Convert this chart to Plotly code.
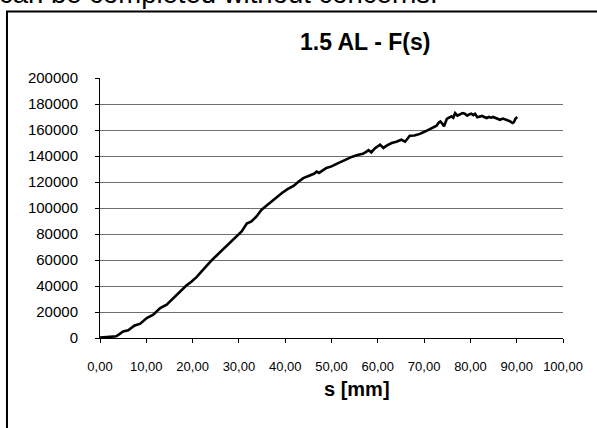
import plotly.graph_objects as go

# Displacement s [mm]
s_mm = [0, 1, 2, 3, 3.5, 4.2, 5.0, 6.1, 6.6, 7.4, 8.7, 9.3, 10.1, 11.5, 12.3, 13.0, 14.4, 15.5,
        16.6, 17.6, 18.7, 19.8, 20.9, 21.9, 23.0, 24.1, 25.2, 26.3, 27.4, 28.4, 29.5, 30.6,
        31.7, 32.7, 33.8, 34.9, 36.0, 37.0, 38.1, 39.3, 40.5, 41.8, 42.8, 43.9, 45.3, 46.3,
        46.8, 47.3, 48.9, 50.0, 51.1, 52.1, 53.2, 54.5, 55.8, 56.8, 57.4, 58.0, 58.6, 59.4,
        60.5, 61.2, 61.9, 63.0, 64.0, 65.1, 65.9, 66.4, 66.9, 67.9, 69.1, 70.3, 71.3, 72.0,
        72.7, 73.1, 73.5, 73.9, 74.3, 74.9, 75.5, 75.9, 76.3, 76.7, 77.2, 77.8, 78.3, 78.8,
        79.3, 79.7, 80.2, 80.6, 81.0, 81.5, 82.0, 82.5, 83.0, 83.5, 84.0, 84.5, 84.9, 85.5,
        85.9, 86.4, 87.0, 87.5, 88.0, 88.6, 89.1, 89.4, 89.7, 90.1]

# Force F (in thousands)
force_k = [0.3, 0.6, 0.8, 1.0, 1.3, 3.0, 5.0, 5.9, 7.5, 9.5, 11.0, 13.0, 15.4, 17.9, 20.5, 23.0,
           25.6, 29.5, 33.0, 37.0, 40.5, 43.5, 47.0, 51.0, 55.5, 59.7, 63.5, 67.4, 71.0, 74.3,
           78.5, 82.0, 88.0, 89.7, 93.5, 98.7, 102.0, 105.0, 108.5, 111.5, 114.5, 117.0, 120.0,
           123.0, 125.0, 126.5, 128.0, 127.0, 130.8, 132.0, 134.0, 135.8, 137.7, 139.5, 141.0,
           141.8, 143.0, 144.5, 142.8, 146.0, 148.7, 146.2, 148.0, 150.0, 151.0, 152.5, 151.0,
           153.5, 155.6, 155.8, 157.0, 159.0, 160.8, 162.0, 163.3, 165.5, 166.6, 165.0, 162.8,
           168.5, 169.5, 170.5, 169.5, 173.0, 171.0, 171.8, 173.0, 172.5, 171.0, 172.0, 172.5,
           171.5, 172.5, 169.8, 170.5, 170.8, 170.0, 169.2, 170.0, 169.5, 170.0, 169.0, 168.5,
           167.9, 168.8, 168.3, 167.5, 166.6, 165.4, 166.0, 168.5, 170.0]
force = [v * 1000 for v in force_k]

x_ticks = [0, 10, 20, 30, 40, 50, 60, 70, 80, 90, 100]
x_tick_labels = ["0,00", "10,00", "20,00", "30,00", "40,00", "50,00", "60,00", "70,00",
                 "80,00", "90,00", "100,00"]
y_ticks = [0, 20000, 40000, 60000, 80000, 100000, 120000, 140000, 160000, 180000, 200000]

chart_title = "1.5 AL - F(s)"
x_title = "s [mm]"
page_text = "can be completed without concerns."

FONT = "Liberation Sans, Arial, Helvetica, sans-serif"

fig = go.Figure()
fig.add_trace(go.Scatter(x=s_mm, y=force, mode="lines",
                         line=dict(color="black", width=2.6), showlegend=False,
                         hoverinfo="skip"))

fig.update_layout(
    width=597, height=428,
    margin=dict(l=100, r=34, t=78, b=90),
    paper_bgcolor="white", plot_bgcolor="white",
    font=dict(family=FONT, color="black"),
    xaxis=dict(range=[0, 100], tickvals=x_ticks, ticktext=x_tick_labels,
               showgrid=False, zeroline=False, showline=True, linecolor="black",
               linewidth=1, ticks="outside", ticklen=4, tickcolor="black",
               tickfont=dict(size=13, family=FONT), ticklabelstandoff=12),
    yaxis=dict(range=[0, 200000], tickvals=y_ticks, ticktext=[str(v) for v in y_ticks],
               showgrid=True, gridcolor="#707070", gridwidth=1, zeroline=False,
               showline=True, linecolor="black", linewidth=1, ticks="outside",
               ticklen=4, tickcolor="black", tickfont=dict(size=15, family=FONT),
               ticklabelstandoff=14),
    shapes=[dict(type="rect", xref="paper", yref="paper",
                 x0=-0.2009, x1=1.3, y0=-0.6, y1=1.2558,
                 line=dict(color="black", width=2), fillcolor="rgba(0,0,0,0)",
                 layer="above")],
    annotations=[
        dict(text="<b>" + chart_title + "</b>", xref="paper", yref="paper",
             x=0.572, y=1.138, xanchor="center", yanchor="middle", showarrow=False,
             font=dict(size=23, family=FONT)),
        dict(text="<b>" + x_title + "</b>", xref="paper", yref="paper",
             x=0.555, y=-0.196, xanchor="center", yanchor="middle", showarrow=False,
             font=dict(size=20, family=FONT)),
        dict(text=page_text, xref="paper", yref="paper",
             x=-0.222, y=1.259, xanchor="left", yanchor="bottom", showarrow=False,
             font=dict(size=27.5, family=FONT)),
    ],
)

fig.write_html("out.html",
               config={"displayModeBar": False, "staticPlot": True},
               post_script="document.body.style.margin='0';"
                           "document.body.style.overflow='hidden';")
